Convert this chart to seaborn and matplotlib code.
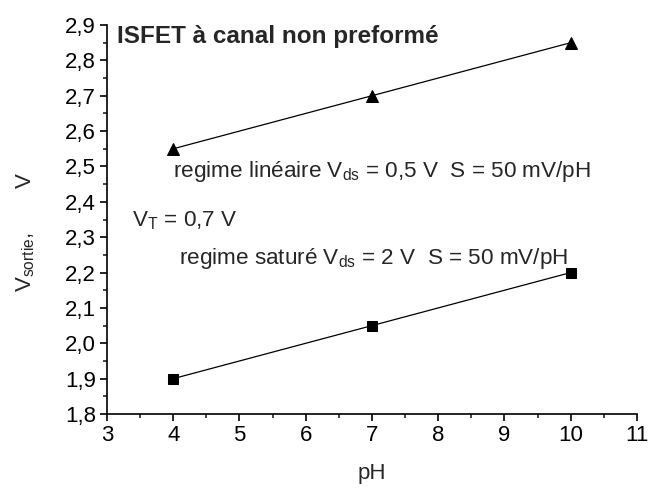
import matplotlib
matplotlib.use("Agg")
import matplotlib.pyplot as plt
from matplotlib.ticker import MultipleLocator, FuncFormatter
import seaborn as sns
import pandas as pd

ph = [4, 7, 10]
v_lineaire = [2.55, 2.70, 2.85]
v_sature = [1.90, 2.05, 2.20]

sns.set_style("ticks")
plt.rcParams["font.family"] = ["Liberation Sans", "DejaVu Sans"]
plt.rcParams["mathtext.fontset"] = "custom"
plt.rcParams["mathtext.rm"] = "Liberation Sans"
plt.rcParams["mathtext.it"] = "Liberation Sans"

fig = plt.figure(figsize=(6.5, 4.88), dpi=100)
ax = fig.add_axes([0.1646, 0.1516, 0.8154, 0.7972])

df_lin = pd.DataFrame({"pH": ph, "V": v_lineaire})
df_sat = pd.DataFrame({"pH": ph, "V": v_sature})
sns.lineplot(data=df_lin, x="pH", y="V", ax=ax, color="black", lw=0.9,
             marker="^", markersize=8, markeredgecolor="black")
sns.lineplot(data=df_sat, x="pH", y="V", ax=ax, color="black", lw=0.9,
             marker="s", markersize=7, markeredgecolor="black")

ax.set_xlim(3, 11)
ax.set_ylim(1.8, 2.9)
ax.xaxis.set_major_locator(MultipleLocator(1))
ax.xaxis.set_minor_locator(MultipleLocator(0.5))
ax.yaxis.set_major_locator(MultipleLocator(0.1))
ax.yaxis.set_minor_locator(MultipleLocator(0.05))
ax.yaxis.set_major_formatter(FuncFormatter(lambda v, p: f"{v:.1f}".replace(".", ",")))
ax.tick_params(which="major", direction="out", length=5, width=1.2, labelsize=16,
               colors="black", pad=3)
ax.tick_params(which="minor", direction="out", length=3, width=1.2)
for s in ["left", "bottom"]:
    ax.spines[s].set_linewidth(1.2)
    ax.spines[s].set_color("black")
sns.despine(ax=ax)

ax.set_xlabel("pH", fontsize=16)
ax.xaxis.set_label_coords(0.5, -0.125)
ax.set_ylabel(r"V$_{\mathrm{sortie}}$,       V", fontsize=16)
ax.yaxis.set_label_coords(-0.132, 0.468)

ax.text(3.15, 2.868, "ISFET à canal non preformé", fontsize=17.5, fontweight="bold", va="center")
ax.text(4.0, 2.485, r"regime linéaire V$_{\mathrm{ds}}$ = 0,5 V  S = 50 mV/pH", fontsize=16.2, va="center")
ax.text(3.38, 2.348, r"V$_{\mathrm{T}}$ = 0,7 V", fontsize=16.2, va="center")
ax.text(4.09, 2.24, r"regime saturé V$_{\mathrm{ds}}$ = 2 V  S = 50 mV/pH", fontsize=16.2, va="center")

fig.savefig("out.png", dpi=100)
